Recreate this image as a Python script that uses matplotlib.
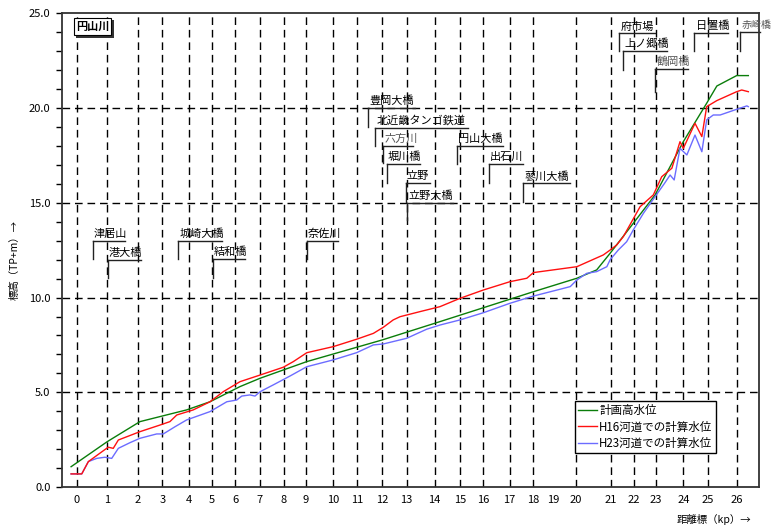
import numpy as np
import matplotlib
matplotlib.use('Agg')
import matplotlib.pyplot as plt
from matplotlib import patheffects

# 日本語フォント
plt.rcParams['font.family'] = ['Noto Sans CJK JP', 'DejaVu Sans']
plt.rcParams['axes.unicode_minus'] = False

# 距離標(kp)の位置（横軸は実距離）
kp_labels = [str(i) for i in range(27)]
kp_pos = [0.00, 1.20, 2.40, 3.37, 4.42, 5.31, 6.24, 7.20, 8.16, 9.03, 10.10,
          11.05, 12.01, 12.99, 14.09, 15.10, 16.01, 17.04, 17.98, 18.75, 19.66,
          21.02, 21.94, 22.79, 23.88, 24.85, 25.98]
no_grid_kp = ['19']

# 計画高水位
plan_x = [-0.22, 1.20, 2.49, 4.33, 5.25, 6.43, 7.22, 9.06, 12.02, 14.30, 17.98,
          19.69, 20.47, 21.00, 21.91, 22.77, 23.88, 24.80, 25.20, 25.98, 26.44]
plan_y = [1.07, 2.39, 3.45, 4.07, 4.50, 5.30, 5.74, 6.62, 7.76, 8.73, 10.31,
          11.02, 11.46, 12.34, 13.92, 15.42, 18.23, 20.26, 21.17, 21.72, 21.72]

# H16河道での計算水位
h16_x = [-0.22, 0.20, 0.46, 1.24, 1.44, 1.64, 2.49, 3.28, 3.67, 3.94, 4.59, 5.25,
         5.77, 6.43, 7.22, 8.13, 8.53, 9.06, 10.10, 11.02, 11.68, 12.07, 12.46,
         12.73, 13.52, 14.30, 15.09, 16.01, 17.06, 17.72, 17.98, 19.69, 20.73,
         21.00, 21.26, 21.52, 22.18, 22.70, 23.03, 23.43, 23.69, 23.75, 23.88,
         24.34, 24.61, 24.80, 25.20, 25.98, 26.18, 26.44]
h16_y = [0.69, 0.69, 1.34, 2.10, 2.04, 2.48, 2.92, 3.27, 3.45, 3.80, 4.07, 4.50,
         5.03, 5.56, 5.91, 6.32, 6.62, 7.09, 7.41, 7.80, 8.11, 8.43, 8.82,
         8.99, 9.26, 9.52, 9.96, 10.40, 10.84, 11.02, 11.32, 11.63, 12.25,
         12.51, 12.78, 13.22, 14.80, 15.42, 16.38, 16.83, 17.97, 18.23, 17.88,
         19.20, 18.50, 20.08, 20.40, 20.87, 20.96, 20.87]

# H23河道での計算水位
h23_x = [-0.22, 0.20, 0.46, 0.79, 1.11, 1.38, 1.64, 2.10, 2.49, 3.15, 3.41, 3.87,
         4.33, 5.25, 5.91, 6.30, 6.50, 6.82, 7.02, 7.22, 7.74, 8.40, 9.06, 10.10,
         11.02, 11.68, 12.07, 12.99, 13.78, 14.30, 15.09, 16.01, 17.06, 17.98,
         19.03, 19.43, 19.69, 20.08, 20.47, 20.87, 21.00, 21.32, 21.65, 21.91,
         22.31, 22.77, 23.14, 23.36, 23.52, 23.75, 24.02, 24.34, 24.61, 24.80,
         25.06, 25.33, 25.98, 26.38, 26.44]
h23_y = [0.69, 0.69, 1.34, 1.51, 1.57, 1.51, 2.04, 2.34, 2.57, 2.80, 2.80, 3.18,
         3.54, 3.98, 4.50, 4.59, 4.80, 4.86, 4.80, 5.03, 5.39, 5.86, 6.35, 6.71,
         7.09, 7.50, 7.55, 7.85, 8.33, 8.55, 8.82, 9.20, 9.70, 10.08,
         10.44, 10.58, 10.93, 11.28, 11.37, 11.63, 12.00, 12.51, 12.95, 13.57,
         14.45, 15.33, 16.03, 16.47, 16.21, 17.88, 17.53, 18.58, 17.70, 19.38,
         19.64, 19.64, 19.94, 20.12, 20.08]

# 地点名（位置, 引出線の高さ, 下端, 横線の右端）
site_names = ['津居山', '港大橋', '城崎大橋', '結和橋', '奈佐川',
              '豊岡大橋', '北近畿タンゴ鉄道', '六方川', '堀川橋', '立野', '立野大橋',
              '円山大橋', '出石川', '蓼川大橋',
              '府市場', '上ノ郷橋', '鶴岡橋', '日置橋', '赤崎橋']
site_x = [0.63, 1.22, 3.98, 5.35, 9.06,
          11.48, 11.74, 12.07, 12.20, 12.95, 13.02,
          14.98, 16.23, 17.58,
          21.36, 21.51, 22.77, 24.31, 26.11]
site_top = [13.00, 11.99, 13.00, 12.02, 13.00,
            19.99, 18.97, 18.00, 17.04, 16.03, 15.01,
            18.00, 17.04, 16.03,
            23.95, 23.02, 22.07, 23.95, 24.04]
site_bottom = [12.02, 11.02, 12.02, 11.02, 12.02,
               19.02, 18.00, 17.09, 16.07, 15.06, 14.10,
               17.05, 16.07, 15.06,
               23.04, 22.02, 20.86, 23.04, 23.04]
site_right = [1.90, 2.52, 5.71, 6.63, 10.30,
              13.32, 15.42, 13.25, 13.52, 13.91, 14.83,
              16.77, 17.58, 19.42,
              22.77, 23.25, 24.08, 25.65, 26.90]
grey_sites = ['六方川', '鶴岡橋', '赤崎橋']

fig = plt.figure(figsize=(7.73, 5.28), dpi=100)
ax = fig.add_axes([0.0798, 0.0777, 0.9021, 0.8968])

ax.set_xlim(-0.59, 26.86)
ax.set_ylim(0, 25)

# グリッド
for lab, p in zip(kp_labels, kp_pos):
    if lab in no_grid_kp:
        continue
    ax.axvline(p, color='black', lw=1.0, ls=(0, (5.5, 3.5)), zorder=1)
for v in [5, 10, 15, 20]:
    ax.axhline(v, color='black', lw=1.0, ls=(0, (5.5, 3.5)), zorder=1)

# 水位
ax.plot(plan_x, plan_y, color='#0a7d0a', lw=1.0, label='計画高水位', zorder=3)
ax.plot(h16_x, h16_y, color='#ff1010', lw=1.0, label='H16河道での計算水位', zorder=4)
ax.plot(h23_x, h23_y, color='#6c6cff', lw=1.0, label='H23河道での計算水位', zorder=3)

# 地点名と引出線
for name, x, yt, yb, xr in zip(site_names, site_x, site_top, site_bottom, site_right):
    c = '#555555' if name in grey_sites else 'black'
    fs = 7.2 if name == '赤崎橋' else 8
    ax.plot([x, x], [yb, yt], color='#222222', lw=1.0, clip_on=False, zorder=2)
    ax.plot([x, xr], [yt, yt], color='#222222', lw=1.0, clip_on=False, zorder=2)
    ax.text(x + 0.05, yt + 0.1, name, fontsize=fs, color=c, ha='left', va='bottom',
            zorder=5, clip_on=False)

# 河川名（影付きの枠）
river = ax.text(0.0442, 0.972, '円山川', transform=ax.transAxes, fontsize=8, ha='center',
                va='center', fontweight='bold',
                bbox=dict(boxstyle='square,pad=0.2', fc='white', ec='black', lw=0.8))
river.get_bbox_patch().set_path_effects([
    patheffects.SimplePatchShadow(offset=(1.5, -1.5), shadow_rgbFace='#333333', alpha=1),
    patheffects.Normal()])

# 軸
ax.set_xticks(kp_pos)
ax.set_xticklabels(kp_labels)
ax.tick_params(axis='x', length=0, pad=6, labelsize=8)
ax.set_yticks([0, 5, 10, 15, 20, 25])
ax.set_yticklabels(['%.1f' % v for v in [0, 5, 10, 15, 20, 25]])
ax.set_yticks(np.arange(0, 26, 1), minor=True)
ax.tick_params(axis='y', which='both', direction='out', length=4, width=1, pad=4, labelsize=8)
for s in ax.spines.values():
    s.set_linewidth(1.3)
    s.set_color('#333333')

fig.text(0.0194, 0.5076, '標高（TP+m）→', rotation=90, ha='center', va='center', fontsize=7.5)
fig.text(0.9237, 0.0165, '距離標（kp）→', ha='center', va='center', fontsize=7.5)

leg = ax.legend(loc='upper left', bbox_to_anchor=(575 / 773, 1 - 400.7 / 528),
                bbox_transform=fig.transFigure, borderaxespad=0, fontsize=8.3,
                handlelength=1.6, handletextpad=0.2, borderpad=0.3, labelspacing=0.28,
                fancybox=False, framealpha=1, edgecolor='black')
leg.get_frame().set_linewidth(1.0)

plt.savefig('out.png', dpi=100)
